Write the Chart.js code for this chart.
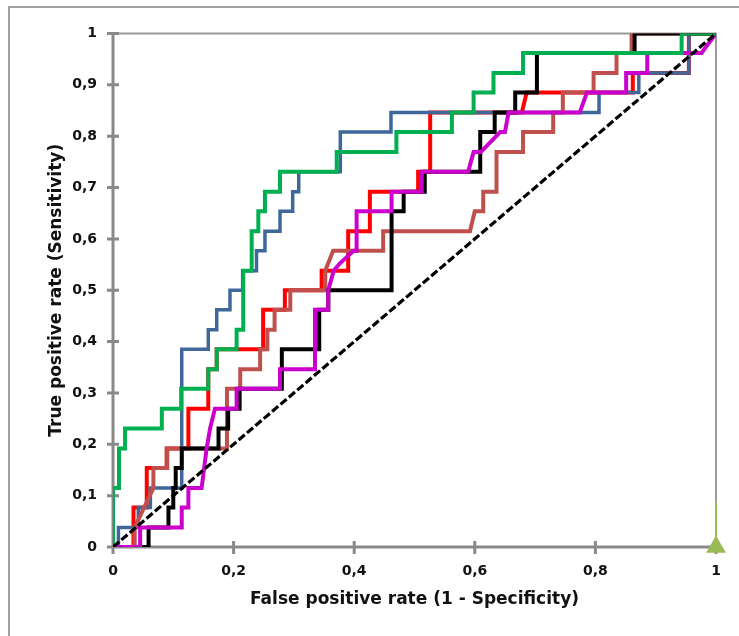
<!DOCTYPE html>
<html><head><meta charset="utf-8">
<script src="https://cdn.jsdelivr.net/npm/chart.js@4"></script>
<style>html,body{margin:0;padding:0;background:#fff}canvas{display:block}</style>
</head><body>
<canvas id="c" width="739" height="636"></canvas>
<script>
const xTickValues = [0, 0.2, 0.4, 0.6, 0.8, 1];
const xTickLabels = ['0', '0,2', '0,4', '0,6', '0,8', '1'];
const yTickValues = [0, 0.1, 0.2, 0.3, 0.4, 0.5, 0.6, 0.7, 0.8, 0.9, 1];
const yTickLabels = ['0', '0,1', '0,2', '0,3', '0,4', '0,5', '0,6', '0,7', '0,8', '0,9', '1'];

const blueX = [0,0.009,0.009,0.042,0.042,0.062,0.062,0.114,0.114,0.158,0.158,0.172,0.172,0.194,0.194,0.215,0.215,0.238,0.238,0.252,0.252,0.277,0.277,0.298,0.298,0.308,0.308,0.377,0.377,0.461,0.461,0.806,0.806,0.872,0.872,0.955,0.955,1];
const blueY = [0,0,0.038,0.038,0.077,0.077,0.115,0.115,0.385,0.385,0.423,0.423,0.462,0.462,0.5,0.5,0.538,0.538,0.577,0.577,0.615,0.615,0.654,0.654,0.692,0.692,0.731,0.731,0.808,0.808,0.846,0.846,0.885,0.885,0.923,0.923,1,1];

const greenX = [0,0,0.01,0.01,0.02,0.02,0.081,0.081,0.113,0.113,0.158,0.158,0.172,0.172,0.205,0.205,0.216,0.216,0.23,0.23,0.241,0.241,0.252,0.252,0.277,0.277,0.371,0.371,0.47,0.47,0.562,0.562,0.598,0.598,0.631,0.631,0.68,0.68,0.943,0.943,1];
const greenY = [0,0.115,0.115,0.192,0.192,0.231,0.231,0.269,0.269,0.308,0.308,0.346,0.346,0.385,0.385,0.423,0.423,0.538,0.538,0.615,0.615,0.654,0.654,0.692,0.692,0.731,0.731,0.769,0.769,0.808,0.808,0.846,0.846,0.885,0.885,0.923,0.923,0.962,0.962,1,1];

const redX = [0,0.034,0.034,0.056,0.056,0.089,0.089,0.125,0.125,0.158,0.158,0.172,0.172,0.249,0.249,0.285,0.285,0.346,0.346,0.39,0.39,0.426,0.426,0.506,0.506,0.526,0.526,0.678,0.686,0.862,0.862,0.955,0.955,1];
const redY = [0,0,0.077,0.077,0.154,0.154,0.192,0.192,0.269,0.269,0.346,0.346,0.385,0.385,0.462,0.462,0.5,0.5,0.538,0.538,0.615,0.615,0.692,0.692,0.731,0.731,0.846,0.846,0.885,0.885,0.923,0.923,1,1];

const brownX = [0,0.036,0.036,0.067,0.067,0.09,0.09,0.189,0.189,0.211,0.211,0.244,0.244,0.256,0.256,0.268,0.268,0.294,0.294,0.352,0.352,0.365,0.448,0.448,0.592,0.6,0.614,0.614,0.636,0.636,0.68,0.68,0.73,0.73,0.746,0.746,0.797,0.797,0.835,0.835,0.86,0.86,1];
const brownY = [0,0,0.038,0.115,0.154,0.154,0.192,0.192,0.308,0.308,0.346,0.346,0.385,0.385,0.423,0.423,0.462,0.462,0.5,0.5,0.538,0.577,0.577,0.615,0.615,0.654,0.654,0.692,0.692,0.769,0.769,0.808,0.808,0.846,0.846,0.885,0.885,0.923,0.923,0.962,0.962,1,1];

const blackX = [0,0.059,0.059,0.092,0.092,0.1,0.1,0.104,0.104,0.114,0.114,0.175,0.175,0.191,0.191,0.21,0.21,0.28,0.28,0.342,0.342,0.357,0.357,0.462,0.462,0.482,0.482,0.517,0.517,0.609,0.609,0.633,0.633,0.667,0.667,0.703,0.703,0.865,0.865,1];
const blackY = [0,0,0.038,0.038,0.077,0.077,0.115,0.115,0.154,0.154,0.192,0.192,0.231,0.231,0.269,0.269,0.308,0.308,0.385,0.385,0.462,0.462,0.5,0.5,0.654,0.654,0.692,0.692,0.731,0.731,0.808,0.808,0.846,0.846,0.885,0.885,0.962,0.962,1,1];

const magentaX = [0,0.045,0.045,0.114,0.114,0.125,0.125,0.147,0.155,0.161,0.169,0.205,0.205,0.277,0.277,0.335,0.335,0.357,0.357,0.366,0.376,0.399,0.404,0.404,0.462,0.462,0.512,0.512,0.589,0.598,0.61,0.642,0.65,0.656,0.774,0.786,0.851,0.851,0.886,0.886,0.976,1];
const magentaY = [0,0,0.038,0.038,0.077,0.077,0.115,0.115,0.19,0.231,0.269,0.269,0.308,0.308,0.346,0.346,0.462,0.462,0.5,0.538,0.552,0.577,0.577,0.654,0.654,0.692,0.692,0.731,0.731,0.769,0.769,0.808,0.808,0.846,0.846,0.885,0.885,0.923,0.923,0.962,0.962,1];

const diagX = [0, 1];
const diagY = [0, 1];
const markerX = [1, 1];
const markerY = [0, 0.09];

function pts(xs, ys) { return xs.map((x, i) => ({ x: x, y: ys[i] })); }

const AXIS = '#898989';

const framePlugin = {
  id: 'frame',
  beforeDraw(chart) {
    const ctx = chart.ctx;
    ctx.save();
    ctx.fillStyle = '#fff';
    ctx.fillRect(0, 0, chart.width, chart.height);
    ctx.strokeStyle = '#a0a0a0';
    ctx.lineWidth = 2;
    ctx.strokeRect(9, 7, 800, 700);
    ctx.restore();
  },
  beforeDatasetsDraw(chart) {
    const ctx = chart.ctx;
    const xs = chart.scales.x, ys = chart.scales.y;
    const x0 = xs.getPixelForValue(0), x1 = xs.getPixelForValue(1);
    const y0 = ys.getPixelForValue(0), y1 = ys.getPixelForValue(1);
    ctx.save();
    ctx.strokeStyle = '#9a9a9a';
    ctx.lineWidth = 2;
    ctx.beginPath();
    ctx.moveTo(x0, y1); ctx.lineTo(x1, y1); ctx.lineTo(x1, y0);
    ctx.stroke();
    ctx.strokeStyle = AXIS;
    ctx.lineWidth = 3;
    ctx.beginPath();
    ctx.moveTo(x0, y1 - 1); ctx.lineTo(x0, y0);
    ctx.moveTo(x0 - 1, y0); ctx.lineTo(x1, y0);
    yTickValues.forEach(v => { const p = ys.getPixelForValue(v); ctx.moveTo(x0 - 6, p); ctx.lineTo(x0 + 6, p); });
    xTickValues.forEach(v => { const p = xs.getPixelForValue(v); ctx.moveTo(p, y0 - 6); ctx.lineTo(p, y0 + 7); });
    ctx.stroke();
    ctx.restore();
  }
};

function line(label, xs, ys, color, width, extra) {
  return Object.assign({
    label: label, data: pts(xs, ys), showLine: true, borderColor: color, backgroundColor: color,
    borderWidth: width, pointRadius: 0, tension: 0, fill: false
  }, extra || {});
}

const tickFont = { family: '"DejaVu Sans", sans-serif', size: 14, weight: 'bold' };
const titleFont = { family: '"DejaVu Sans", sans-serif', size: 17, weight: 'bold' };

new Chart(document.getElementById('c'), {
  type: 'scatter',
  data: {
    datasets: [
      line('marker', markerX, markerY, '#9BBB59', 2, { pointRadius: [11.5, 0], pointStyle: 'triangle', pointBackgroundColor: '#9BBB59', pointBorderColor: '#9BBB59', pointBorderWidth: 0, clip: false }),
      line('diagonal', diagX, diagY, '#000000', 3.2, { borderDash: [8, 3] }),
      line('green', greenX, greenY, '#00B050', 4),
      line('magenta', magentaX, magentaY, '#CC00CC', 4),
      line('black', blackX, blackY, '#000000', 4),
      line('brown', brownX, brownY, '#C0504D', 4),
      line('blue', blueX, blueY, '#3F679A', 3.5),
      line('red', redX, redY, '#FF0000', 4)
    ]
  },
  options: {
    responsive: false,
    animation: false,
    devicePixelRatio: 1,
    layout: { padding: { left: 30, top: 33.5, right: 23, bottom: 20 } },
    plugins: { legend: { display: false }, tooltip: { enabled: false } },
    scales: {
      x: {
        type: 'linear', min: 0, max: 1,
        afterBuildTicks: s => { s.ticks = xTickValues.map(v => ({ value: v })); },
        afterFit: s => { s.height = 69; },
        ticks: { callback: (v, i) => xTickLabels[i], font: tickFont, color: '#111', padding: 16, maxRotation: 0, autoSkip: false },
        grid: { display: false, drawTicks: false },
        border: { display: false },
        title: { display: true, text: 'False positive rate (1 - Specificity)', font: titleFont, color: '#111', padding: { top: 0, bottom: 5.8 } }
      },
      y: {
        type: 'linear', min: 0, max: 1,
        afterBuildTicks: s => { s.ticks = yTickValues.map(v => ({ value: v })); },
        afterFit: s => { s.width = 83; },
        ticks: { callback: (v, i) => yTickLabels[i], font: tickFont, color: '#111', padding: 16, autoSkip: false },
        grid: { display: false, drawTicks: false },
        border: { display: false },
        title: { display: true, text: 'True positive rate (Sensitivity)', font: titleFont, color: '#111', padding: { top: 16.8, bottom: 0 } }
      }
    }
  },
  plugins: [framePlugin]
});
</script>
</body></html>
